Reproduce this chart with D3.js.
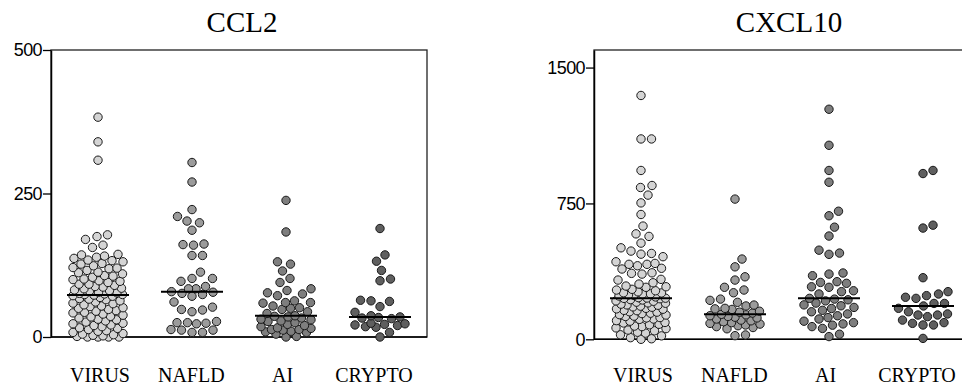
<!DOCTYPE html>
<html>
<head>
<meta charset="utf-8">
<script src="https://cdn.jsdelivr.net/npm/d3@7"></script>
<style>
  body { margin: 0; background: #fff; }
  svg { display: block; }
</style>
</head>
<body>
<svg id="chart" width="962" height="389"></svg>
<script>
// Patient groups (x categories)
const groups = ["VIRUS", "NAFLD", "AI", "CRYPTO"];

// CCL2 serum levels per group
const ccl2Virus = [383, 340, 308, 178, 175, 170, 160, 156, 144, 143, 141, 139, 137, 134, 133, 131, 128, 127, 124, 121,
  120, 119, 116, 113, 112, 110, 107, 106, 104, 101, 100, 98, 97, 95, 92, 92, 90, 88, 87, 85,
  84, 82, 81, 80, 78, 77, 76, 75, 74, 74, 73,
  72, 71, 69, 67, 66, 65, 63, 61, 59, 58, 56, 54, 53, 51, 50, 48, 46, 45, 43, 42,
  40, 38, 36, 35, 33, 31, 30, 28, 26, 24, 23, 21, 20, 18, 16, 15, 13, 11, 10, 8,
  6, 5, 4, 3, 2, 1, 0, 0, 0, 0];
const ccl2Nafld = [304, 270, 222, 210, 202, 199, 186, 162, 161, 160, 142, 142, 113, 102, 102, 97, 88, 84, 84,
  79, 78, 76, 74, 71, 61, 52, 48, 47, 44, 27, 25, 25, 24, 23, 13, 12, 12, 8, 8];
const ccl2Ai = [238, 183, 131, 127, 115, 102, 95, 84, 81, 77, 75, 72, 63, 60, 60, 59, 54, 51, 50, 48, 44, 41,
  37, 36, 35, 33, 31, 30, 28, 27, 25, 22, 20, 18, 16, 15, 13, 13, 12, 10, 9, 8, 5, 1, 0];
const ccl2Crypto = [189, 143, 132, 116, 101, 98, 64, 63, 62, 53, 43, 37, 35,
  34, 33, 32, 24, 23, 22, 21, 20, 18, 17, 8, 0];
const ccl2Ticks = [0, 250, 500];

// CXCL10 serum levels per group
const cxcl10Virus = [1346, 1106, 1106, 932, 849, 838, 796, 753, 689, 625, 582, 568, 531, 505, 487, 474, 470, 456, 428, 419,
  414, 414, 406, 392, 388, 367, 364, 360, 331, 327, 312, 305, 294, 290, 287, 276, 272, 268, 262, 257,
  256, 251, 249, 245, 242, 239, 234, 230, 228, 227, 226,
  224, 219, 217, 212, 210, 205, 201, 199, 194, 190, 188, 183, 179, 177, 171, 168, 166, 160, 158, 152,
  150, 144, 142, 136, 134, 128, 126, 120, 118, 112, 110, 103, 100, 93, 90, 83, 80, 73, 70, 63,
  59, 51, 47, 39, 34, 25, 19, 9, 3, 0];
const cxcl10Nafld = [774, 443, 400, 345, 327, 287, 272, 257, 222, 215, 204, 189, 184, 171, 168, 165, 155, 150, 145,
  138, 135, 130, 126, 122, 118, 112, 106, 102, 97, 92, 88, 84, 79, 75, 70, 65, 58, 24, 20];
const cxcl10Ai = [1270, 1071, 932, 867, 707, 682, 619, 570, 492, 476, 469, 366, 360, 351, 318, 314, 309, 290, 287, 268, 263, 250,
  226, 222, 218, 212, 200, 190, 185, 176, 170, 160, 152, 140, 130, 120, 112, 100, 92, 85, 78, 70, 60, 28, 15];
const cxcl10Crypto = [932, 915, 630, 614, 340, 263, 250, 241, 232, 226, 198, 198, 184,
  171, 152, 140, 134, 134, 125, 106, 92, 88, 79, 79, 5];
const cxcl10Ticks = [0, 750, 1500];

// Group fill shades
const groupFill = d3.scaleOrdinal().domain(groups).range(["#d4d4d4", "#9b9b9b", "#7e7e7e", "#5f5f5f"]);

const panels = [
  { title: "CCL2", series: [ccl2Virus, ccl2Nafld, ccl2Ai, ccl2Crypto], ticks: ccl2Ticks,
    yMax: 500, left: 51, top: 50, bottom: 337, titleX: 242 },
  { title: "CXCL10", series: [cxcl10Virus, cxcl10Nafld, cxcl10Ai, cxcl10Crypto], ticks: cxcl10Ticks,
    yMax: 1597, left: 594, top: 50, bottom: 339.3, titleX: 789 }
];

const svg = d3.select("#chart");
const bandW = 94;
const R = 4.2;          // dot radius
const halfSpread = 25;  // max horizontal spread of a swarm
const medianHalf = 31;  // half-length of the median bar

// Greedy beeswarm: place each dot as close to the column centre as possible
function swarm(values, cx, y) {
  const minD = 2 * R + 2;
  const pts = values.map(v => ({ v, py: y(v) })).sort((a, b) => b.py - a.py);
  const placed = [];
  for (const p of pts) {
    let bestOff = 0, bestDist = -1;
    for (let k = 0; k <= halfSpread * 4; k++) {
      const off = (k % 2 === 1 ? 1 : -1) * Math.ceil(k / 2) * 0.5;
      if (Math.abs(off) > halfSpread) break;
      let md = Infinity;
      for (const q of placed) {
        const dy = q.py - p.py;
        if (Math.abs(dy) >= minD) continue;
        const d = Math.hypot(q.px - (cx + off), dy);
        if (d < md) md = d;
      }
      if (md >= minD) { bestOff = off; bestDist = md; break; }
      if (md > bestDist + 0.25) { bestDist = md; bestOff = off; }
    }
    p.px = cx + bestOff;
    placed.push(p);
  }
  return placed;
}

panels.forEach(P => {
  const g = svg.append("g");
  const x = d3.scaleBand().domain(groups).range([P.left, P.left + bandW * groups.length]);
  const y = d3.scaleLinear().domain([0, P.yMax]).range([P.bottom, P.top]);

  // frame
  g.append("rect")
    .attr("x", P.left).attr("y", P.top)
    .attr("width", bandW * groups.length).attr("height", P.bottom - P.top)
    .attr("fill", "none").attr("stroke", "#222").attr("stroke-width", 1.3);

  // y axis
  const yAxis = g.append("g")
    .attr("transform", `translate(${P.left},0)`)
    .call(d3.axisLeft(y).tickValues(P.ticks).tickFormat(d3.format("d"))
      .tickSize(8).tickSizeOuter(0).tickPadding(1));
  yAxis.select(".domain").attr("stroke", "#000").attr("stroke-width", 1.5);
  yAxis.selectAll(".tick line").attr("stroke", "#000").attr("stroke-width", 1.3);
  yAxis.selectAll(".tick text")
    .attr("fill", "#000")
    .style("font-family", "'Liberation Sans', Arial, sans-serif")
    .style("font-size", "18px")
    .style("letter-spacing", "-0.6px");

  // bottom axis line
  g.append("line")
    .attr("x1", P.left).attr("x2", P.left + bandW * groups.length)
    .attr("y1", P.bottom).attr("y2", P.bottom)
    .attr("stroke", "#000").attr("stroke-width", 1.5);

  // title
  g.append("text")
    .attr("x", P.titleX).attr("y", 32)
    .attr("text-anchor", "middle")
    .style("font-family", "'Liberation Serif', 'Times New Roman', serif")
    .style("font-size", "29px")
    .text(P.title);

  // category labels
  const cx0 = x(groups[0]) + bandW / 2, cx3 = x(groups[3]) + bandW / 2;
  const lx = d3.scalePoint().domain(groups).range([cx0 + 2, cx3 - 6]);
  g.selectAll("text.cat").data(groups).join("text")
    .attr("class", "cat")
    .attr("x", d => lx(d)).attr("y", 382)
    .attr("text-anchor", "middle")
    .style("font-family", "'Liberation Serif', 'Times New Roman', serif")
    .style("font-size", "20px")
    .text(d => d);

  // dots and medians
  groups.forEach((grp, i) => {
    const cx = x(grp) + bandW / 2;
    const pts = swarm(P.series[i], cx, y);
    g.append("g").selectAll("circle").data(pts).join("circle")
      .attr("cx", d => d.px).attr("cy", d => d.py).attr("r", R)
      .attr("fill", groupFill(grp))
      .attr("stroke", "#1a1a1a").attr("stroke-width", 1);
    const m = d3.median(P.series[i]);
    g.append("line")
      .attr("x1", cx - medianHalf).attr("x2", cx + medianHalf)
      .attr("y1", y(m)).attr("y2", y(m))
      .attr("stroke", "#000").attr("stroke-width", 2);
  });
});
</script>
</body>
</html>
